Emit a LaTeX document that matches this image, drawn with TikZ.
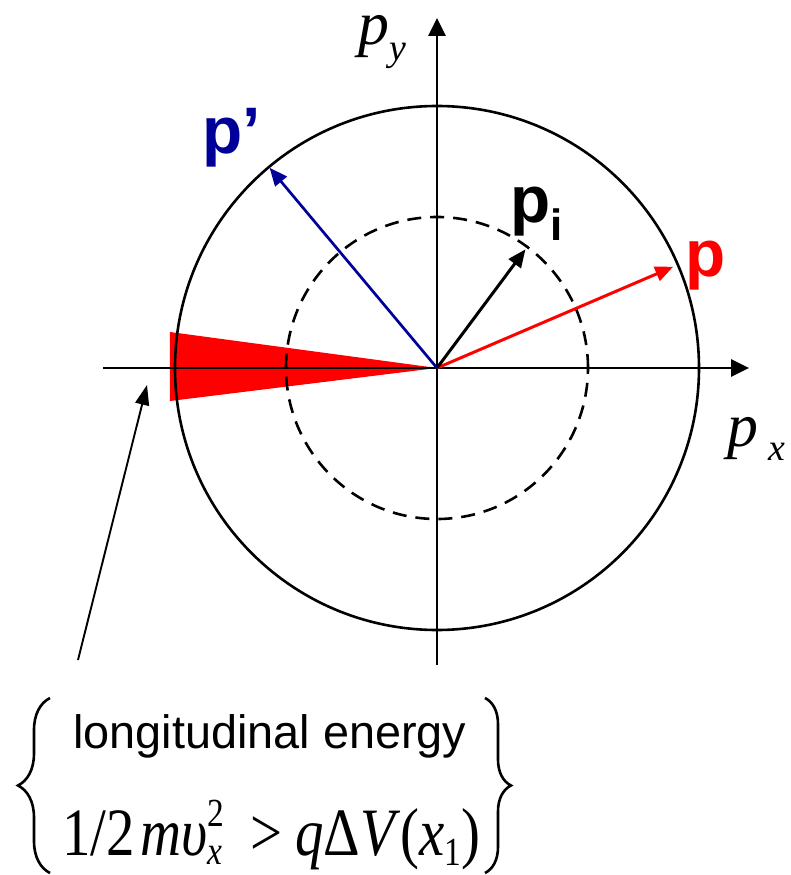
\documentclass[tikz,border=0pt]{standalone}
\usepackage{fontspec}
\usepackage{graphicx}
\setmainfont{Liberation Sans}
\newfontfamily\tnr{Liberation Serif}
\usetikzlibrary{arrows.meta,positioning,decorations.pathreplacing}
\definecolor{navy}{HTML}{000099}
\definecolor{vred}{HTML}{FF0000}
\newcommand\subsz{\fontsize{38}{38}\selectfont}
\newcommand\idxsz{\fontsize{40}{40}\selectfont}
\tikzset{
  axis/.style={-{Triangle[length=18bp,width=17bp]},line width=2.8bp},
  vec/.style={-{Triangle[length=18bp,width=15bp]},line width=3bp},
  pointer/.style={-{Triangle[length=20bp,width=14bp]},line width=1.9bp},
  veclabel/.style={font=\fontsize{66}{66}\selectfont\bfseries,inner sep=0pt},
  axlabel/.style={font=\fontsize{62}{62}\selectfont\tnr\itshape,inner sep=0pt,anchor=base west},
  brace/.style={decorate,decoration={brace,amplitude=#1},line width=2.6bp}
}
\begin{document}
\begin{tikzpicture}[x=1bp,y=1bp]
\useasboundingbox (-437,-507) rectangle (354,368);
\coordinate (O) at (0,0);
% red wedge on the p_x axis
\fill[vred] (O) -- (-267,36) -- (-267,-33) -- cycle;
\draw[line width=2.6bp] (O) circle[radius=262];
\draw[line width=2.6bp,dash pattern=on 14bp off 9bp] (O) circle[radius=151];
% axes
\coordinate (xl) at (-334,0); \coordinate (xr) at (312,0);
\coordinate (yb) at (0,-297); \coordinate (yt) at (0,350);
\draw[axis] (xl) -- (xr);
\draw[axis] (yb) -- (yt);
\node[axlabel] (py) at (-79,323) {p\raisebox{-16bp}{\subsz y}};
\node[axlabel] (px) at (290,-78) {p\,\raisebox{-14bp}{\subsz x}};
% momentum vectors
\coordinate (tp) at (23.2:257);
\coordinate (tpi) at (53.3:148);
\coordinate (tpp) at (129.9:261);
\draw[vec,vred] (O) -- (tp);
\draw[vec] (O) -- (tpi);
\draw[vec,navy,line width=2.7bp] (O) -- (tpp);
\node[veclabel,text=navy] (lpp) at (-205,230) {p’};
\node[veclabel] (lpi) at (100,154) {p\raisebox{-18bp}{\fontsize{44}{44}\selectfont i}};
\node[veclabel,text=vred] (lp) at (269,102) {p};
% condition below
\node[anchor=base,font=\fontsize{47}{47}\selectfont,inner sep=0pt] (txt) at (-167,-380) {longitudinal energy};
\node[anchor=base west,font=\fontsize{68}{68}\selectfont\tnr,inner sep=0pt] (cond) at (-375,-487)
  {\resizebox{418bp}{\height}{1/2\hspace{0.1em}\textit{mυ}\rlap{\raisebox{29bp}{\idxsz 2}}\raisebox{-9bp}{\idxsz\itshape x}\hspace{0.5em}>\hspace{0.22em}\textit{q}Δ\textit{V}(\textit{x}\raisebox{-10bp}{\idxsz 1})}};
\coordinate (lt) at (-387,-330); \coordinate (lb) at (-387,-505);
\coordinate (rt) at (48,-330); \coordinate (rb) at (48,-505);
\draw[brace=32bp] (lb) -- (lt);
\draw[brace=26bp] (rt) -- (rb);
\coordinate (ps) at (-359,-292);
\coordinate (pt) at (-290,-17);
\draw[pointer] (ps) -- (pt);
\end{tikzpicture}
\end{document}
